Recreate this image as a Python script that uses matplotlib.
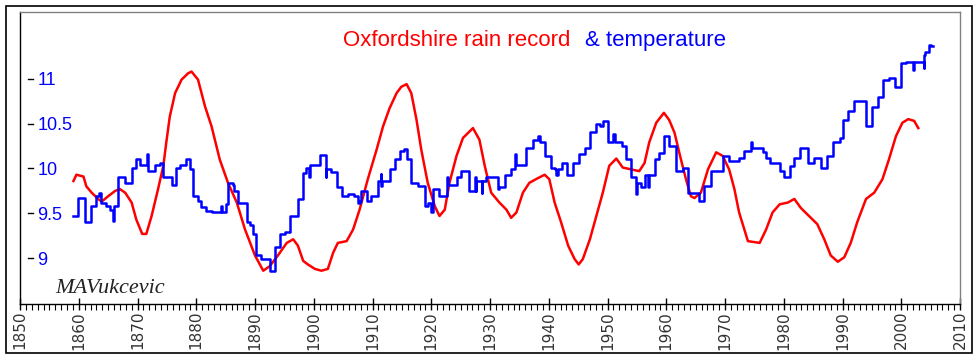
import matplotlib
matplotlib.use("Agg")
from matplotlib import pyplot as plt
from matplotlib.patches import Rectangle
import matplotlib.transforms as mtransforms

# rain record, drawn on the temperature scale
rain_years = [1859.1, 1859.6, 1860.8, 1861.3, 1862.2, 1863.3, 1863.9, 1865.0, 1866.2, 1867.0,
              1867.9, 1869.0, 1869.8, 1870.8, 1871.5, 1872.4, 1873.5, 1874.4, 1874.9, 1875.5,
              1876.4, 1877.5, 1878.6, 1879.2, 1880.3, 1881.5, 1882.6, 1884.0, 1885.4, 1886.9,
              1888.3, 1890.0, 1891.4, 1892.5, 1893.9, 1895.4, 1896.5, 1897.3, 1898.2, 1899.0,
              1900.2, 1901.3, 1902.4, 1903.3, 1904.1, 1905.6, 1906.7, 1907.8, 1909.2, 1910.7,
              1911.8, 1912.9, 1914.1, 1914.9, 1915.8, 1916.6, 1917.5, 1918.3, 1919.4, 1920.6,
              1921.4, 1922.3, 1923.1, 1924.3, 1925.4, 1927.1, 1928.2, 1929.1, 1930.2, 1931.6,
              1932.8, 1933.6, 1934.5, 1935.6, 1936.7, 1938.1, 1939.3, 1940.1, 1941.0, 1942.1,
              1943.3, 1944.4, 1945.1, 1945.8, 1947.0, 1948.1, 1949.2, 1950.3, 1951.5, 1952.6,
              1954.0, 1955.4, 1956.3, 1957.1, 1958.3, 1959.6, 1960.5, 1961.4, 1962.5, 1963.4,
              1964.2, 1964.8, 1965.9, 1967.1, 1968.5, 1969.6, 1970.7, 1971.6, 1972.4, 1973.3,
              1973.9, 1975.9, 1977.0, 1978.1, 1979.3, 1980.7, 1981.8, 1982.9, 1984.3, 1985.7,
              1986.9, 1988.0, 1989.2, 1990.3, 1991.4, 1992.5, 1994.0, 1995.4, 1996.8, 1997.9,
              1999.1, 2000.2, 2001.2, 2002.2, 2002.9]
rain_vals = [9.86, 9.93, 9.91, 9.80, 9.73, 9.66, 9.63, 9.69, 9.75, 9.77,
             9.73, 9.62, 9.43, 9.27, 9.27, 9.47, 9.77, 10.03, 10.29, 10.58,
             10.84, 10.99, 11.06, 11.08, 10.99, 10.69, 10.47, 10.10, 9.84, 9.62,
             9.32, 9.03, 8.86, 8.91, 9.03, 9.17, 9.21, 9.14, 8.97, 8.93,
             8.88, 8.86, 8.88, 9.06, 9.17, 9.19, 9.32, 9.54, 9.88, 10.21,
             10.47, 10.67, 10.84, 10.91, 10.94, 10.84, 10.54, 10.21, 9.84, 9.58,
             9.47, 9.54, 9.84, 10.14, 10.34, 10.45, 10.32, 10.03, 9.73, 9.62,
             9.54, 9.45, 9.51, 9.73, 9.84, 9.89, 9.93, 9.88, 9.62, 9.40,
             9.14, 8.99, 8.93, 8.99, 9.21, 9.47, 9.73, 10.03, 10.11, 10.01,
             9.99, 9.97, 10.06, 10.29, 10.51, 10.62, 10.54, 10.40, 10.10, 9.87,
             9.69, 9.67, 9.73, 9.99, 10.18, 10.14, 9.99, 9.77, 9.51, 9.32,
             9.19, 9.17, 9.32, 9.51, 9.60, 9.62, 9.66, 9.56, 9.47, 9.38,
             9.21, 9.03, 8.96, 9.01, 9.17, 9.40, 9.66, 9.73, 9.88, 10.10,
             10.36, 10.51, 10.55, 10.53, 10.45]

# temperature steps (value holds until next year entry)
temp_years = [1859.1, 1859.9, 1861.05, 1862.1, 1863.0, 1863.5, 1863.8, 1864.6, 1865.3, 1865.9,
              1866.0, 1866.7, 1867.9, 1869.0, 1869.8, 1870.5, 1871.7, 1871.8, 1873.0, 1873.9,
              1874.3, 1875.8, 1876.5, 1877.3, 1878.3, 1878.9, 1879.5, 1880.3, 1880.8, 1881.7,
              1882.6, 1884.2, 1884.4, 1885.1, 1885.4, 1886.3, 1886.5, 1887.1, 1888.6, 1889.2,
              1889.6, 1890.2, 1891.1, 1892.5, 1893.4, 1894.2, 1895.1, 1895.9, 1897.3, 1898.2,
              1898.6, 1899.2, 1899.4, 1901.0, 1902.0, 1902.1, 1903.0, 1904.0, 1904.8, 1905.8,
              1906.8, 1907.6, 1907.8, 1908.0, 1909.0, 1909.8, 1910.9, 1911.4, 1911.5, 1911.6,
              1912.9, 1913.8, 1914.6, 1915.3, 1915.8, 1916.6, 1917.7, 1918.9, 1919.4, 1919.9,
              1920.3, 1921.4, 1922.7, 1922.8, 1924.3, 1925.1, 1926.5, 1927.4, 1927.6, 1927.7,
              1928.5, 1928.6, 1928.7, 1929.4, 1931.3, 1931.4, 1931.5, 1932.5, 1933.5, 1934.2,
              1934.4, 1936.2, 1937.3, 1938.1, 1938.5, 1939.3, 1940.3, 1941.0, 1941.3, 1941.5,
              1942.2, 1943.1, 1944.1, 1945.2, 1946.1, 1947.0, 1948.1, 1948.7, 1949.3, 1950.0,
              1951.0, 1951.2, 1952.4, 1953.2, 1954.0, 1954.9, 1955.0, 1955.7, 1956.3, 1956.9,
              1957.0, 1958.0, 1958.8, 1959.7, 1960.5, 1961.7, 1962.8, 1963.7, 1964.8, 1965.6,
              1966.5, 1967.6, 1969.6, 1970.7, 1972.4, 1973.3, 1974.4, 1974.6, 1976.4, 1977.0,
              1977.6, 1979.3, 1980.1, 1981.0, 1981.8, 1982.7, 1984.1, 1985.2, 1986.3, 1987.4,
              1988.3, 1989.5, 1990.0, 1990.9, 1992.0, 1994.0, 1995.1, 1996.0, 1996.9, 1997.9,
              1998.9, 2000.0, 2000.8, 2002.0, 2002.1, 2002.2, 2003.8, 2003.9, 2004.0, 2004.8,
              2005.1, 2005.4]
temp_vals = [9.47, 9.67, 9.40, 9.58, 9.69, 9.73, 9.62, 9.58, 9.54, 9.41,
             9.58, 9.91, 9.84, 10.01, 10.10, 10.04, 10.16, 9.97, 10.04, 10.06,
             9.90, 9.82, 10.01, 10.04, 10.10, 9.99, 9.69, 9.64, 9.57, 9.53,
             9.51, 9.58, 9.51, 9.60, 9.84, 9.82, 9.75, 9.62, 9.40, 9.37,
             9.27, 9.03, 8.99, 8.86, 9.12, 9.27, 9.29, 9.47, 9.66, 9.95,
             10.01, 9.90, 10.04, 10.15, 9.91, 9.99, 9.96, 9.79, 9.69, 9.72,
             9.69, 9.62, 9.64, 9.75, 9.64, 9.69, 9.86, 9.94, 9.80, 9.86,
             9.99, 10.10, 10.19, 10.22, 10.10, 9.84, 9.80, 9.58, 9.62, 9.51,
             9.77, 9.69, 9.90, 9.82, 9.91, 9.97, 9.75, 9.91, 9.75, 9.86,
             9.86, 9.73, 9.86, 9.90, 9.88, 9.77, 9.79, 9.93, 9.99, 10.16,
             10.04, 10.23, 10.32, 10.36, 10.29, 10.14, 10.01, 9.99, 9.93, 9.99,
             10.06, 9.93, 10.06, 10.16, 10.23, 10.41, 10.50, 10.47, 10.53, 10.29,
             10.38, 10.29, 10.25, 10.10, 9.90, 9.71, 9.84, 9.79, 9.93, 9.79,
             9.93, 10.10, 10.17, 10.36, 10.25, 9.97, 10.00, 9.73, 9.73, 9.64,
             9.80, 9.97, 10.14, 10.08, 10.12, 10.19, 10.30, 10.23, 10.18, 10.12,
             10.06, 9.97, 9.91, 10.03, 10.12, 10.23, 10.06, 10.12, 10.01, 10.14,
             10.29, 10.34, 10.54, 10.64, 10.75, 10.47, 10.69, 10.80, 10.99, 11.01,
             10.91, 11.17, 11.19, 11.10, 11.17, 11.19, 11.12, 11.27, 11.30, 11.38,
             11.37, 11.37]

temp_ticks = [9, 9.5, 10, 10.5, 11]
temp_tick_labels = ["9", "9.5", "10", "10.5", "11"]
decades = list(range(1850, 2011, 10))
years_minor = list(range(1850, 2011))

W, H = 979, 358
fig = plt.figure(figsize=(W / 100, H / 100), dpi=100)
fig.patches.append(Rectangle((6 / W, 5 / H), 966 / W, 347 / H, transform=fig.transFigure,
                             fill=False, edgecolor="black", linewidth=1.2))

ax = fig.add_axes([20 / W, 1 - 304 / H, 940 / W, 292 / H])
ax.plot(rain_years, rain_vals, color="#ff0000", lw=1.8)
ax.step(temp_years, temp_vals, where="post", color="#0000ff", lw=1.8)

ax.set_xlim(1850, 2010)
ax.set_ylim(8.489, 11.744)

for side in ["top", "right"]:
    ax.spines[side].set_color("#808080")
for side in ["left", "bottom"]:
    ax.spines[side].set_color("black")
for s in ax.spines.values():
    s.set_linewidth(1.0)

ax.set_xticks(decades)
ax.set_xticks(years_minor, minor=True)
ax.set_xticklabels([str(d) for d in decades], rotation=90, fontsize=11, color="#333333")
ax.tick_params(axis="x", which="major", direction="inout", length=8, width=1, pad=1)
ax.tick_params(axis="x", which="minor", direction="out", length=4, width=0.8)

ax.set_yticks(temp_ticks)
ax.set_yticklabels(temp_tick_labels, fontsize=13, color="#0000ff", family="Liberation Sans")
ax.tick_params(axis="y", length=0, pad=-12.5)
for lab in ax.get_yticklabels():
    lab.set_horizontalalignment("left")

trans = mtransforms.blended_transform_factory(ax.transAxes, ax.transData)
for t in temp_ticks:
    ax.plot([0.0085, 0.0135], [t, t], transform=trans, color="black", lw=1.0)

fig.text(343 / W, 1 - 46 / H, "Oxfordshire rain record", color="#ff0000", fontsize=16,
         family="Liberation Sans", va="baseline", ha="left")
fig.text(585 / W, 1 - 46 / H, "& temperature", color="#0000ff", fontsize=16,
         family="Liberation Sans", va="baseline", ha="left")
fig.text(55 / W, 1 - 293 / H, "MAVukcevic", color="#222222", fontsize=16,
         family="Liberation Serif", style="italic", va="baseline", ha="left")

fig.savefig("out.png", dpi=100)
